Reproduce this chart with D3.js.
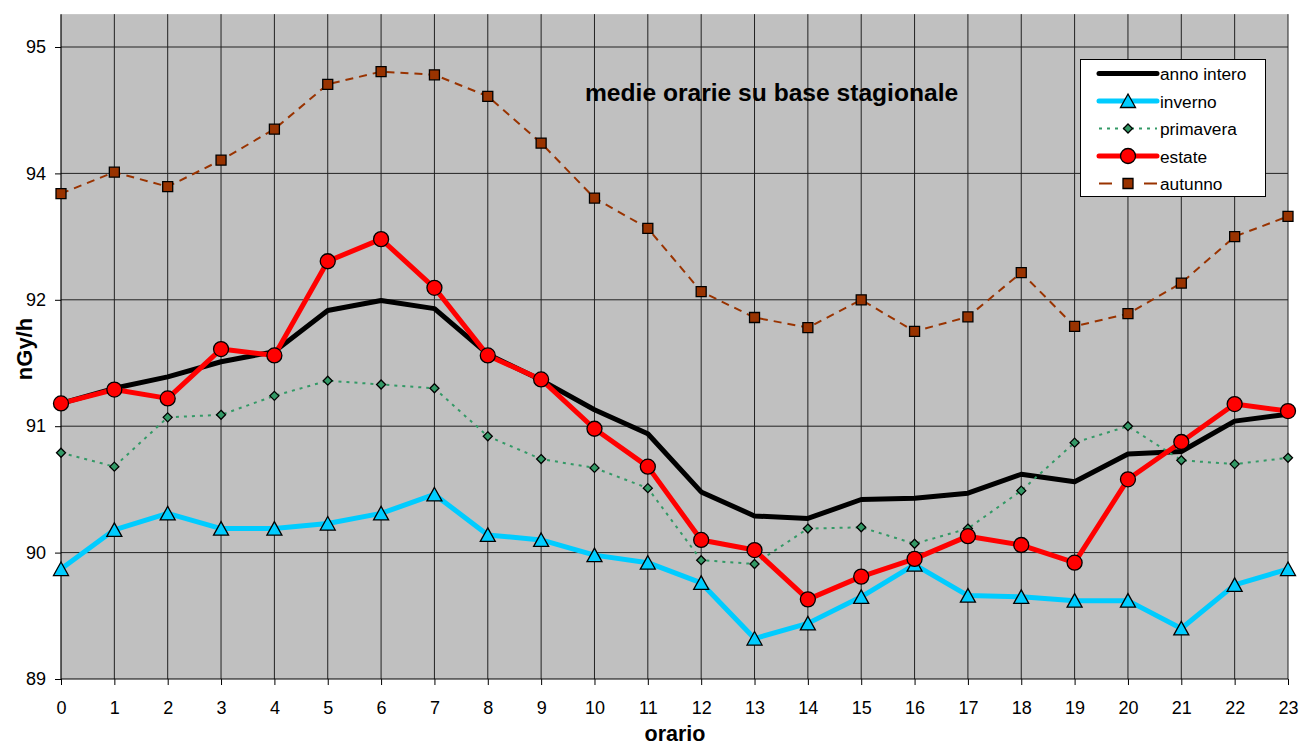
<!DOCTYPE html>
<html><head><meta charset="utf-8">
<script src="https://cdn.jsdelivr.net/npm/d3@7"></script>
<style>
body{margin:0;background:#fff;}
svg{display:block;font-family:"Liberation Sans",Arial,sans-serif;}
</style>
</head><body>
<svg id="c" width="1300" height="745"></svg>
<script>
// ---- data ----
const hours = [0,1,2,3,4,5,6,7,8,9,10,11,12,13,14,15,16,17,18,19,20,21,22,23];
const yTickValues = [89,90,91,92,94,95];
const annoIntero = [91.18,91.30,91.39,91.51,91.59,91.915,91.995,91.93,91.57,91.365,91.13,90.94,90.48,90.29,90.27,90.42,90.43,90.47,90.62,90.56,90.78,90.80,91.04,91.095];
const inverno = [89.87,90.18,90.31,90.19,90.19,90.23,90.31,90.46,90.14,90.10,89.98,89.92,89.76,89.32,89.44,89.65,89.905,89.66,89.65,89.62,89.62,89.40,89.745,89.87];
const primavera = [90.79,90.68,91.07,91.09,91.24,91.36,91.33,91.30,90.92,90.74,90.67,90.51,89.94,89.91,90.19,90.20,90.07,90.19,90.49,90.87,91.00,90.73,90.70,90.75];
const estate = [91.18,91.29,91.22,91.61,91.56,92.61,92.96,92.19,91.56,91.37,90.98,90.68,90.10,90.02,89.63,89.81,89.95,90.13,90.06,89.92,90.58,90.875,91.175,91.12];
const autunno = [93.68,94.01,93.79,94.105,94.35,94.705,94.805,94.78,94.61,94.24,93.61,93.13,92.13,91.86,91.78,92.00,91.75,91.865,92.43,91.79,91.89,92.265,93.00,93.32];
const seriesNames = ["anno intero","inverno","primavera","estate","autunno"];
const titleText = "medie orarie su base stagionale";
const yTitle = "nGy/h";
const xTitle = "orario";

// ---- layout ----
const left = 61, right = 1288, bottom = 679, gridStep = 126.4;
const svg = d3.select("#c");
const x = d3.scaleLinear().domain([0,23]).range([left,right]);
const y = d3.scaleLinear().domain(yTickValues).range(yTickValues.map((d,i)=>bottom - i*gridStep));
const plotTop = y(95.26);

// plot background
svg.append("rect").attr("x",left).attr("y",plotTop).attr("width",right-left).attr("height",bottom-plotTop).attr("fill","#c0c0c0");

// gridlines
const g = svg.append("g");
g.selectAll(".hg").data(yTickValues.slice(1)).join("line")
  .attr("x1",left).attr("x2",right).attr("y1",d=>y(d)).attr("y2",d=>y(d))
  .attr("stroke","#222").attr("stroke-width",1);
g.selectAll(".vg").data(hours.slice(1)).join("line")
  .attr("x1",d=>x(d)).attr("x2",d=>x(d)).attr("y1",plotTop).attr("y2",bottom)
  .attr("stroke","#222").attr("stroke-width",1);

// axes
const yAxis = svg.append("g").attr("transform",`translate(${left},0)`)
  .call(d3.axisLeft(y).tickValues(yTickValues).tickFormat(d3.format("d")).tickSize(6).tickPadding(9));
const xAxis = svg.append("g").attr("transform",`translate(0,${bottom})`)
  .call(d3.axisBottom(x).tickValues(hours).tickFormat(d3.format("d")).tickSize(6).tickPadding(16));
[yAxis,xAxis].forEach(a=>{
  a.select(".domain").remove();
  a.selectAll("text").attr("font-size",18).attr("fill","#000").attr("font-family","Liberation Sans, Arial, sans-serif");
  a.selectAll("line").attr("stroke","#000");
});
svg.append("line").attr("x1",left).attr("x2",left).attr("y1",plotTop).attr("y2",bottom).attr("stroke","#000").attr("stroke-width",1.2);
svg.append("line").attr("x1",left).attr("x2",right).attr("y1",bottom).attr("y2",bottom).attr("stroke","#000").attr("stroke-width",1.2);

// markers
const markers = {
  none: null,
  triangle: "M0,-7L7.5,6.5L-7.5,6.5Z",
  diamond: "M0,-4.5L4.5,0L0,4.5L-4.5,0Z",
  circle: "M7.5,0A7.5,7.5 0 1,1 -7.5,0A7.5,7.5 0 1,1 7.5,0Z",
  square: "M-5,-5L5,-5L5,5L-5,5Z"
};
const seriesDefs = [
  {name:seriesNames[0], values:annoIntero, color:"#000000", width:5, dash:null, marker:"none", fill:null},
  {name:seriesNames[1], values:inverno, color:"#00ccff", width:5, dash:null, marker:"triangle", fill:"#00ccff"},
  {name:seriesNames[2], values:primavera, color:"#339966", width:2, dash:"3,5", marker:"diamond", fill:"#339966"},
  {name:seriesNames[3], values:estate, color:"#ff0000", width:5, dash:null, marker:"circle", fill:"#ff0000"},
  {name:seriesNames[4], values:autunno, color:"#993300", width:2, dash:"8,6", marker:"square", fill:"#993300"}
];

const line = d3.line().x((d,i)=>x(hours[i])).y(d=>y(d));
seriesDefs.forEach(s=>{
  const sg = svg.append("g");
  sg.append("path").datum(s.values).attr("d",line).attr("fill","none")
    .attr("stroke",s.color).attr("stroke-width",s.width).attr("stroke-linejoin","round")
    .attr("stroke-dasharray",s.dash);
  if (markers[s.marker]) {
    sg.selectAll("path.m").data(s.values).join("path").attr("class","m")
      .attr("d",markers[s.marker])
      .attr("transform",(d,i)=>`translate(${x(hours[i])},${y(d)})`)
      .attr("fill",s.fill).attr("stroke","#000").attr("stroke-width",1.3);
  }
});

// chart title
svg.append("text").attr("x",585).attr("y",101).attr("font-size",24.6).attr("font-weight","bold").attr("fill","#000").text(titleText);

// axis titles
svg.append("text").attr("transform","translate(32,349) rotate(-90)").attr("text-anchor","middle")
  .attr("font-size",22).attr("font-weight","bold").text(yTitle);
svg.append("text").attr("x",675).attr("y",741).attr("text-anchor","middle")
  .attr("font-size",21.5).attr("font-weight","bold").text(xTitle);

// legend
const lg = svg.append("g");
lg.append("rect").attr("x",1080.5).attr("y",59.5).attr("width",185).attr("height",137)
  .attr("fill","#fff").attr("stroke","#000").attr("stroke-width",1);
seriesDefs.forEach((s,i)=>{
  const ly = 73.5 + i*27.5;
  lg.append("line").attr("x1",1099).attr("x2",1157).attr("y1",ly).attr("y2",ly)
    .attr("stroke",s.color).attr("stroke-width",s.width).attr("stroke-linecap", s.dash? "butt":"round")
    .attr("stroke-dasharray", s.marker==="square" ? "13,32,13" : s.dash);
  if (markers[s.marker]) {
    lg.append("path").attr("d",markers[s.marker]).attr("transform",`translate(1128,${ly})`)
      .attr("fill",s.fill).attr("stroke","#000").attr("stroke-width",1.3);
  }
  lg.append("text").attr("x",1160).attr("y",ly+6.5).attr("font-size",17.3).attr("fill","#000").text(s.name);
});
</script>
</body></html>
